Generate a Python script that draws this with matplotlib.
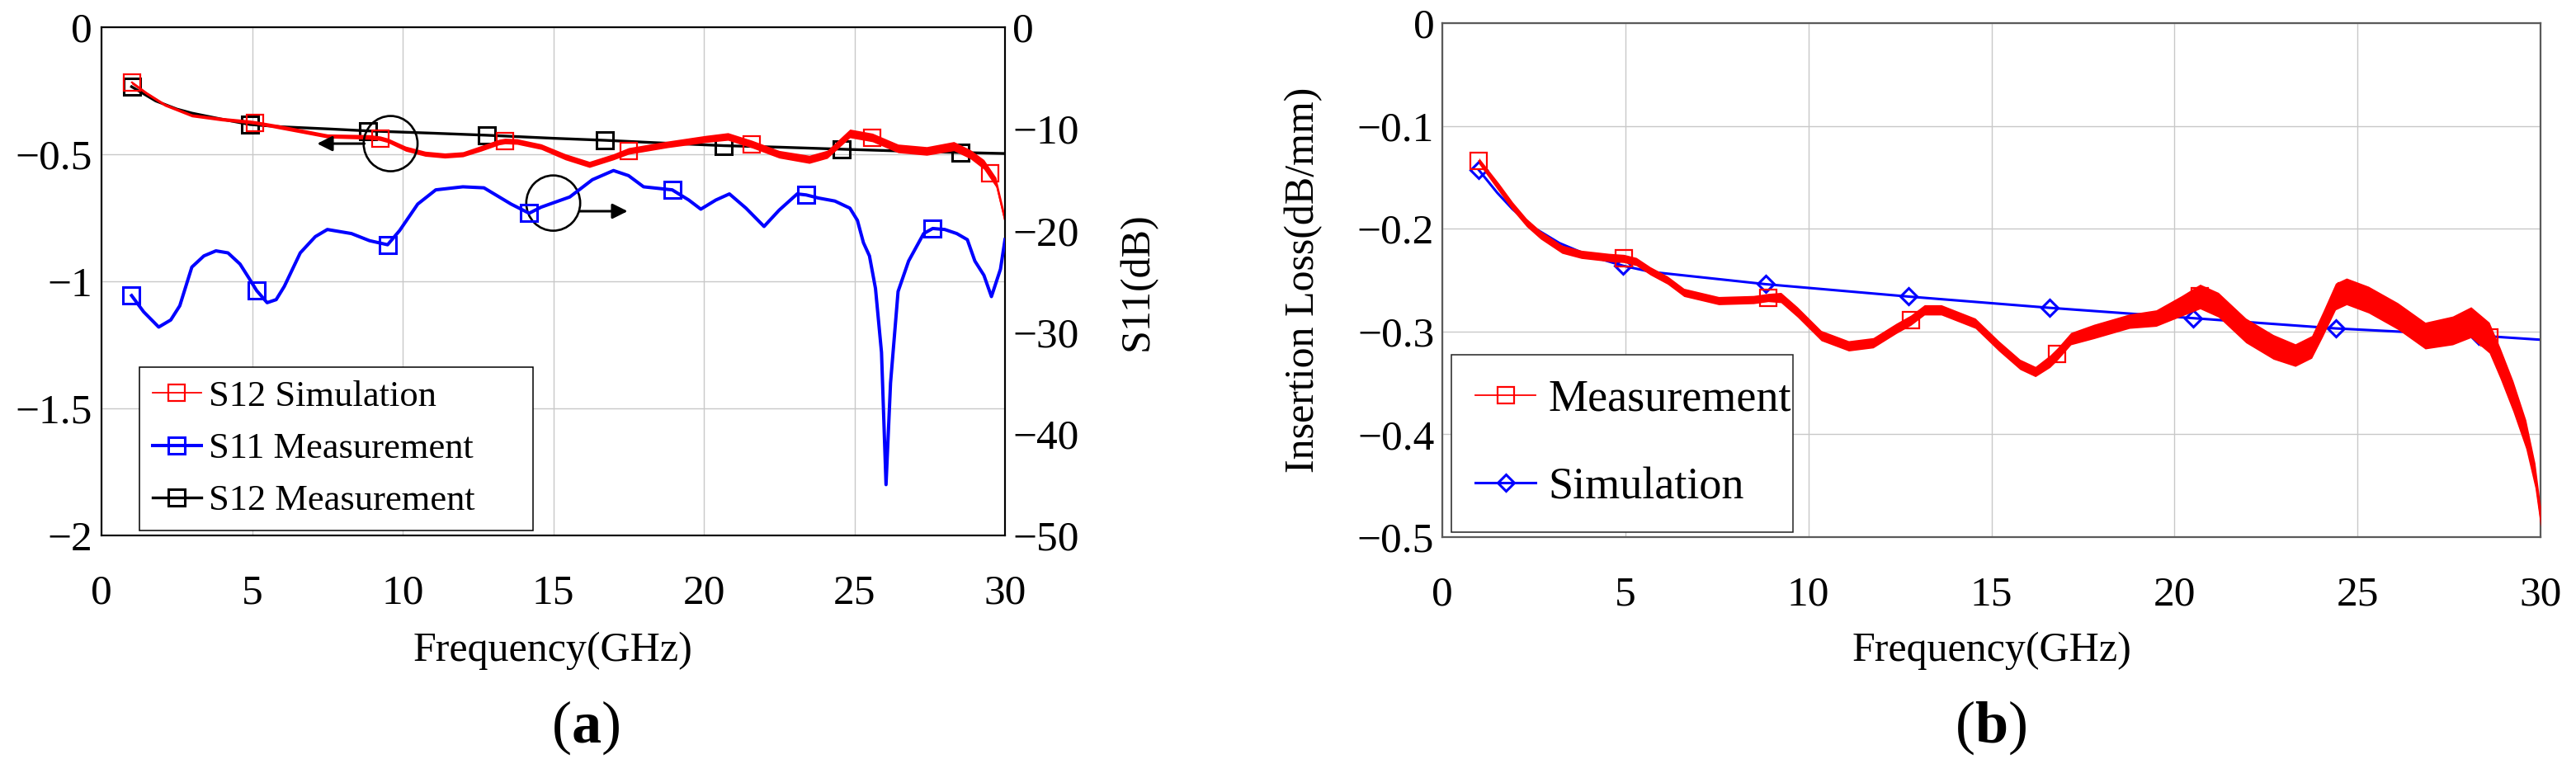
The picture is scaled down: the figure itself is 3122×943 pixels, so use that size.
import numpy as np
import matplotlib
matplotlib.use('Agg')
import matplotlib.pyplot as plt
from matplotlib.patches import Ellipse

plt.rcParams['font.family'] = ['Liberation Serif', 'DejaVu Serif']
plt.rcParams['mathtext.fontset'] = 'custom'
plt.rcParams['mathtext.rm'] = 'Liberation Serif'
plt.rcParams['mathtext.bf'] = 'Liberation Serif:bold'
plt.rcParams['axes.unicode_minus'] = True

# ---------------- data: panel (a) ----------------
# S12 "Simulation" (red, left axis)
s12_sim_f = [1.0, 1.5, 2.1, 3.0, 4.0, 4.9, 5.1, 5.8, 6.7, 7.5, 8.9, 9.25, 9.5, 10.1, 10.75,
             11.4, 12.0, 12.6, 13.2, 13.4, 13.8, 14.6, 15.4, 16.2, 17.0, 17.5, 18.8, 20.05,
             20.8, 21.6, 22.5, 23.5, 24.1, 24.85, 25.6, 26.45, 27.4, 28.3, 28.85, 29.3, 29.5,
             29.7, 30.0]
s12_sim_v = [-0.217, -0.26, -0.305, -0.347, -0.362, -0.372, -0.375, -0.39, -0.41, -0.428,
             -0.432, -0.437, -0.445, -0.478, -0.498, -0.505, -0.50, -0.477, -0.452, -0.448,
             -0.45, -0.47, -0.51, -0.54, -0.51, -0.487, -0.461, -0.44, -0.43, -0.46, -0.50,
             -0.52, -0.50, -0.418, -0.434, -0.477, -0.487, -0.468, -0.50, -0.54, -0.575,
             -0.61, -0.76]
s12_sim_noise = [0.006, 0.006, 0.006, 0.006, 0.007, 0.007, 0.007, 0.008, 0.008, 0.008, 0.009,
                 0.009, 0.009, 0.010, 0.010, 0.010, 0.010, 0.011, 0.011, 0.011, 0.011, 0.011,
                 0.012, 0.012, 0.012, 0.013, 0.013, 0.014, 0.015, 0.015, 0.015, 0.016, 0.016,
                 0.017, 0.017, 0.017, 0.017, 0.018, 0.018, 0.019, 0.019, 0.019, 0.019]
s12_sim_marks = [1.0, 5.1, 9.25, 13.4, 17.5, 21.6, 25.6, 29.5]

# S12 Measurement (black, left axis)
s12_meas_f = [1.0, 1.8, 2.5, 3.0, 4.0, 4.93, 6.0, 7.5, 8.86, 11.0, 12.79, 15.0, 16.72, 18.5,
              20.65, 22.5, 24.58, 26.5, 28.51, 30.0]
s12_meas_v = [-0.234, -0.29, -0.322, -0.338, -0.362, -0.383, -0.392, -0.40, -0.408, -0.417,
              -0.425, -0.437, -0.445, -0.455, -0.466, -0.472, -0.48, -0.487, -0.493, -0.497]
s12_meas_marks = [1.0, 4.93, 8.86, 12.79, 16.72, 20.65, 24.58, 28.51]

# S11 Measurement (blue, right axis, dB)
s11_f = [1.0, 1.4, 1.9, 2.3, 2.6, 3.0, 3.4, 3.8, 4.2, 4.6, 4.9, 5.15, 5.5, 5.8, 6.07, 6.6,
         7.1, 7.5, 8.3, 8.9, 9.5, 9.9, 10.5, 11.1, 12.0, 12.7, 13.6, 14.2, 14.6, 15.55, 16.3,
         17.0, 17.5, 18.0, 18.95, 19.5, 19.9, 20.4, 20.85, 21.4, 22.0, 22.5, 23.1, 23.4, 23.8,
         24.35, 24.85, 25.1, 25.3, 25.5, 25.7, 25.9, 26.05, 26.2, 26.45, 26.8, 27.3, 27.6,
         28.0, 28.4, 28.75, 29.0, 29.3, 29.55, 29.85, 30.0]
s11_db = [-26.4, -28.0, -29.5, -28.8, -27.4, -23.6, -22.5, -22.0, -22.2, -23.3, -24.7, -25.9,
          -27.1, -26.8, -25.5, -22.2, -20.6, -19.9, -20.3, -21.0, -21.4, -20.0, -17.4, -16.0,
          -15.7, -15.8, -17.4, -18.3, -17.7, -16.7, -15.0, -14.1, -14.6, -15.7, -16.0, -17.0,
          -17.9, -17.0, -16.4, -17.8, -19.6, -18.0, -16.4, -16.5, -16.8, -17.1, -17.8, -19.0,
          -21.2, -22.5, -25.7, -32.0, -45.0, -35.0, -26.0, -23.0, -20.3, -19.8, -19.9, -20.3,
          -20.9, -23.0, -24.4, -26.5, -23.8, -20.9]
s11_marks = [1.0, 5.15, 9.5, 14.2, 18.95, 23.4, 27.6]

a_labels = ['S12 Simulation', 'S11 Measurement', 'S12 Measurement']
a_xticks = [0, 5, 10, 15, 20, 25, 30]
a_yticks = [0, -0.5, -1, -1.5, -2]
a_yticklabels = ['0', '\u22120.5', '\u22121', '\u22121.5', '\u22122']
a_y2ticks = [0, -10, -20, -30, -40, -50]
a_y2ticklabels = ['0', '\u221210', '\u221220', '\u221230', '\u221240', '\u221250']

# ---------------- data: panel (b) ----------------
il_meas_f = [1.0, 1.55, 1.92, 2.3, 2.68, 3.27, 3.8, 4.55, 4.96, 5.3, 5.68, 6.15, 6.6, 7.55,
             8.5, 8.9, 9.25, 9.7, 10.35, 11.1, 11.77, 12.4, 12.8, 13.17, 13.63, 14.56, 15.2,
             15.78, 16.2, 16.6, 16.8, 17.17, 17.8, 18.77, 19.5, 20.2, 20.7, 21.2, 21.95, 22.7,
             23.3, 23.75, 24.05, 24.4, 24.7, 25.3, 26.1, 26.85, 27.6, 28.1, 28.6, 28.9, 29.25,
             29.6, 29.85, 30.0]
il_meas_v = [-0.134, -0.16, -0.178, -0.194, -0.206, -0.22, -0.225, -0.228, -0.229, -0.232,
             -0.241, -0.25, -0.262, -0.27, -0.269, -0.267, -0.267, -0.281, -0.304, -0.314,
             -0.311, -0.297, -0.289, -0.279, -0.279, -0.292, -0.314, -0.332, -0.339, -0.329,
             -0.322, -0.307, -0.30, -0.29, -0.287, -0.275, -0.266, -0.274, -0.299, -0.315,
             -0.323, -0.315, -0.293, -0.266, -0.261, -0.269, -0.285, -0.304, -0.299, -0.291,
             -0.306, -0.331, -0.363, -0.40, -0.44, -0.48]
il_meas_noise = [0.003, 0.004, 0.004, 0.004, 0.004, 0.004, 0.004, 0.004, 0.004, 0.004, 0.004,
                 0.004, 0.004, 0.004, 0.004, 0.004, 0.005, 0.005, 0.005, 0.005, 0.005, 0.005,
                 0.005, 0.005, 0.005, 0.005, 0.005, 0.005, 0.005, 0.006, 0.006, 0.006, 0.007,
                 0.007, 0.008, 0.010, 0.012, 0.012, 0.012, 0.012, 0.011, 0.011, 0.012, 0.013,
                 0.013, 0.013, 0.013, 0.013, 0.014, 0.015, 0.015, 0.015, 0.015, 0.014, 0.012,
                 0.010]
il_meas_marks = [1.0, 4.96, 8.9, 12.8, 16.8, 20.7, 24.7, 28.6]

il_sim_f = [1.0, 1.5, 1.92, 2.5, 3.2, 4.0, 4.93, 5.7, 8.84, 12.73, 16.6, 20.5, 24.4, 28.3, 30.0]
il_sim_v = [-0.143, -0.165, -0.181, -0.199, -0.214, -0.226, -0.236, -0.242, -0.254, -0.266,
            -0.277, -0.287, -0.297, -0.304, -0.308]
il_sim_marks = [1.0, 4.93, 8.84, 12.73, 16.6, 20.5, 24.4, 28.3]

b_labels = ['Measurement', 'Simulation']
b_xticks = [0, 5, 10, 15, 20, 25, 30]
b_yticks = [0, -0.1, -0.2, -0.3, -0.4, -0.5]
b_yticklabels = ['0', '\u22120.1', '\u22120.2', '\u22120.3', '\u22120.4', '\u22120.5']


def mark_idx(freqs, marks):
    fa = np.asarray(freqs)
    return [int(np.argmin(np.abs(fa - m))) for m in marks]


W, H = 3122, 943
fig = plt.figure(figsize=(W / 100, H / 100), dpi=100)

GRID = '#c8c8c8'
TICK_FS = 37
LABEL_FS = 36

# ---------------- panel (a) ----------------
axA = fig.add_axes([123 / W, 1 - 649 / H, 1095 / W, 616 / H])
axA2 = axA.twinx()

axA.fill_between(s12_sim_f, np.array(s12_sim_v) - np.array(s12_sim_noise),
                 np.array(s12_sim_v) + np.array(s12_sim_noise), color='red', lw=0, zorder=3)
l_black, = axA.plot(s12_meas_f, s12_meas_v, color='black', lw=2.4, marker='s', ms=15,
                    mfc='none', mec='black', mew=2.2,
                    markevery=mark_idx(s12_meas_f, s12_meas_marks), zorder=2)
l_red, = axA.plot(s12_sim_f, s12_sim_v, color='red', lw=1.3, marker='s', ms=15,
                  mfc='none', mec='red', mew=1.6,
                  markevery=mark_idx(s12_sim_f, s12_sim_marks), zorder=4)
l_blue, = axA2.plot(s11_f, s11_db, color='blue', lw=2.9, marker='s', ms=15,
                    mfc='none', mec='blue', mew=2.2,
                    markevery=mark_idx(s11_f, s11_marks), zorder=3)

# annotation circles and arrows
axA.add_patch(Ellipse((9.6, -0.458), 1.79, 0.2175, fill=False, ec='black', lw=1.9, zorder=5))
axA.annotate('', xy=(7.16, -0.458), xytext=(8.73, -0.458),
             arrowprops=dict(arrowstyle='-|>,head_length=0.5,head_width=0.25', color='black',
                             lw=2.2, mutation_scale=22, shrinkA=0, shrinkB=0), zorder=5)
axA.add_patch(Ellipse((15.0, -0.692), 1.79, 0.2175, fill=False, ec='black', lw=1.9, zorder=5))
axA.annotate('', xy=(17.47, -0.724), xytext=(15.87, -0.724),
             arrowprops=dict(arrowstyle='-|>,head_length=0.5,head_width=0.25', color='black',
                             lw=2.2, mutation_scale=22, shrinkA=0, shrinkB=0), zorder=5)

axA.set_xlim(0, 30)
axA.set_ylim(-2, 0)
axA2.set_ylim(-50, 0)
axA.set_xticks(a_xticks)
axA.set_xticklabels([str(t) for t in a_xticks])
axA.set_yticks(a_yticks)
axA.set_yticklabels(a_yticklabels)
axA2.set_yticks(a_y2ticks)
axA2.set_yticklabels(a_y2ticklabels)
axA.grid(True, color=GRID, lw=1.0)
axA.set_axisbelow(True)
axA.tick_params(axis='both', length=0, labelsize=TICK_FS)
axA.tick_params(axis='x', pad=34)
axA.tick_params(axis='y', pad=8)
axA2.tick_params(axis='y', length=0, labelsize=TICK_FS, pad=6.5)
for ax in (axA, axA2):
    for sp in ax.spines.values():
        sp.set_color('black')
        sp.set_linewidth(1.5)

axA.set_xlabel('Frequency(GHz)', fontsize=LABEL_FS, va='baseline')
axA.xaxis.set_label_coords(0.5, (649 - 801) / 616)
axA2.set_ylabel('S11(dB)', fontsize=LABEL_FS, rotation=90, va='center', ha='center')
axA2.yaxis.set_label_coords(1.147, 0.5)

legA = axA2.legend([l_red, l_blue, l_black], a_labels, loc='lower left',
                   bbox_to_anchor=(0.042, 0.0097, 0.4356, 0.3), mode='expand',
                   borderaxespad=0, fontsize=32, labelspacing=0.52, borderpad=0.35,
                   handlelength=1.33, handletextpad=0.2, fancybox=False,
                   edgecolor='black', framealpha=1)
legA.get_frame().set_linewidth(1.1)

fig.text(710 / W, 1 - 900 / H, r'($\mathbf{a}$)', fontsize=52, ha='center', va='baseline')

# ---------------- panel (b) ----------------
axB = fig.add_axes([1748 / W, 1 - 651 / H, 1331 / W, 623 / H])

l_sim, = axB.plot(il_sim_f, il_sim_v, color='blue', lw=2.2, marker='D', ms=10.5,
                  mfc='none', mec='blue', mew=2.2,
                  markevery=mark_idx(il_sim_f, il_sim_marks), zorder=2)
axB.fill_between(il_meas_f, np.array(il_meas_v) - np.array(il_meas_noise),
                 np.array(il_meas_v) + np.array(il_meas_noise), color='red', lw=0, zorder=3)
l_meas, = axB.plot(il_meas_f, il_meas_v, color='red', lw=1.3, marker='s', ms=15,
                   mfc='none', mec='red', mew=1.6,
                   markevery=mark_idx(il_meas_f, il_meas_marks), zorder=4)

axB.set_xlim(0, 30)
axB.set_ylim(-0.5, 0)
axB.set_xticks(b_xticks)
axB.set_xticklabels([str(t) for t in b_xticks])
axB.set_yticks(b_yticks)
axB.set_yticklabels(b_yticklabels)
axB.grid(True, color=GRID, lw=1.0)
axB.set_axisbelow(True)
axB.tick_params(axis='both', length=0, labelsize=TICK_FS)
axB.tick_params(axis='x', pad=34)
axB.tick_params(axis='y', pad=7)
for sp in axB.spines.values():
    sp.set_color('#5a5a5a')
    sp.set_linewidth(1.6)

axB.set_xlabel('Frequency(GHz)', fontsize=LABEL_FS, va='baseline')
axB.xaxis.set_label_coords(0.5, (651 - 801) / 623)
axB.set_ylabel('Insertion Loss(dB/mm)', fontsize=LABEL_FS, rotation=90, va='center',
               ha='center')
axB.yaxis.set_label_coords(-0.1262, 0.5)

legB = axB.legend([l_meas, l_sim], b_labels, loc='lower left',
                  bbox_to_anchor=(0.0083, 0.0096, 0.311, 0.3), mode='expand',
                  borderaxespad=0, fontsize=39, labelspacing=1.04, borderpad=0.53,
                  handlelength=1.36, handletextpad=0.27, fancybox=False,
                  edgecolor='#222222', framealpha=1)
legB.get_frame().set_linewidth(1.1)

fig.text(2413 / W, 1 - 900 / H, r'($\mathbf{b}$)', fontsize=52, ha='center', va='baseline')

fig.savefig('out.png', dpi=100, facecolor='white')
